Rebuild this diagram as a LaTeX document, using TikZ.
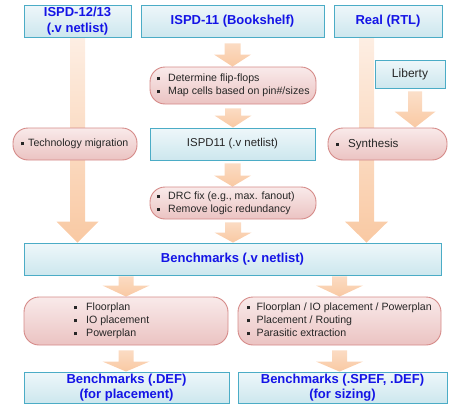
\documentclass[tikz,border=0pt]{standalone}
\usepackage{fontspec}
\setmainfont{Liberation Sans}
\usetikzlibrary{calc}
\pgfdeclarelayer{background}
\pgfsetlayers{background,main}
\definecolor{bbord}{HTML}{4BACC6}
\definecolor{btop}{HTML}{EEF7FA}
\definecolor{bbot}{HTML}{CDE7EE}
\definecolor{pbord}{HTML}{D58A88}
\definecolor{ptop}{HTML}{F9EAEA}
\definecolor{pbot}{HTML}{EBC3C2}
\definecolor{arr}{HTML}{F9C9A3}
\definecolor{arrlt}{HTML}{FDEEE3}
\definecolor{tblue}{HTML}{1414E6}
\definecolor{tdark}{HTML}{262626}
\newcommand\sq{\rule[1.3pt]{3.2pt}{3.2pt}}
% start, end, half shaft, half head, head length, top colour
\newcommand\vfat[6]{%
  \path[top color=#6, bottom color=arr] let \p1=(#1), \p2=(#2) in
    (\x1-#3,\y1) -- (\x1+#3,\y1) -- (\x1+#3,\y2+#5) -- (\x1+#4,\y2+#5)
    -- (\x1,\y2) -- (\x1-#4,\y2+#5) -- (\x1-#3,\y2+#5) -- cycle;}
\tikzset{
  bluebox/.style={draw=bbord, line width=0.9pt, top color=btop, bottom color=bbot, inner sep=0pt, align=center},
  ttl/.style={font=\bfseries\fontsize{13}{15.5}\selectfont, text=tblue},
  plain/.style={text=tdark},
  pinkbox/.style={draw=pbord, line width=0.9pt, top color=ptop, bottom color=pbot, inner sep=0pt,
    rounded corners=15pt, text=tdark, font=\fontsize{10.6}{13}\selectfont}
}
\begin{document}
\begin{tikzpicture}[x=1pt,y=-1pt]
\useasboundingbox (0,0) rectangle (452,407);
% top row
\node[bluebox, ttl, minimum width=107pt, minimum height=32pt] (i1213) at (77.5,21) {ISPD-12/13\\(.v netlist)};
\node[bluebox, ttl, minimum width=183pt, minimum height=32pt] (i11) at (232.5,21) {ISPD-11 (Bookshelf)};
\node[bluebox, ttl, minimum width=108pt, minimum height=32pt] (rtl) at (388,21) {Real (RTL)};
\node[bluebox, plain, font=\fontsize{12}{14}\selectfont, minimum width=70pt, minimum height=28pt] (lib) at (410,74) {Liberty};
% middle column
\node[pinkbox, minimum width=166pt, minimum height=37pt] (det) at (233,85.5)
  {\makebox[166pt][l]{\hspace*{7pt}\begin{tabular}{@{}l@{\hspace{8pt}}l@{}}\sq & Determine flip-flops\\ \sq & Map cells based on pin\#/sizes\end{tabular}}};
\node[pinkbox, minimum width=124pt, minimum height=32pt] (tech) at (75,144)
  {\makebox[124pt][l]{\hspace*{8pt}\sq\hspace{4pt}Technology migration}};
\node[bluebox, plain, font=\fontsize{11.4}{14}\selectfont, minimum width=165pt, minimum height=32pt] (i11v) at (232.5,144) {ISPD11 (.v netlist)};
\node[pinkbox, font=\fontsize{11.6}{14}\selectfont, minimum width=119pt, minimum height=32pt] (syn) at (387.5,144)
  {\makebox[119pt][l]{\hspace*{8pt}\sq\hspace{9pt}Synthesis}};
\node[pinkbox, minimum width=166pt, minimum height=32pt] (drc) at (233,203)
  {\makebox[166pt][l]{\hspace*{7pt}\begin{tabular}{@{}l@{\hspace{8pt}}l@{}}\sq & DRC fix (e.g., max. fanout)\\ \sq & Remove logic redundancy\end{tabular}}};
\node[bluebox, ttl, minimum width=417pt, minimum height=32pt] (bench) at (232.5,259) {Benchmarks (.v netlist)};
% lower part
\node[pinkbox, minimum width=204pt, minimum height=48pt] (fl) at (126,321)
  {\makebox[204pt][l]{\hspace*{50pt}\begin{tabular}{@{}l@{\hspace{9pt}}l@{}}\sq & Floorplan\\ \sq & IO placement\\ \sq & Powerplan\end{tabular}}};
\node[pinkbox, minimum width=203pt, minimum height=48pt] (fr) at (339.5,321)
  {\makebox[203pt][l]{\hspace*{9pt}\begin{tabular}{@{}l@{\hspace{6.5pt}}l@{}}\sq & Floorplan / IO placement / Powerplan\\ \sq & Placement / Routing\\ \sq & Parasitic extraction\end{tabular}}};
\node[bluebox, ttl, minimum width=205pt, minimum height=31pt] (defl) at (126.5,387.5) {Benchmarks (.DEF)\\(for placement)};
\node[bluebox, ttl, minimum width=209pt, minimum height=31pt] (defr) at (342.5,387.5) {Benchmarks (.SPEF, .DEF)\\(for sizing)};
% arrows
\begin{pgfonlayer}{background}
\vfat{i1213.south}{bench.north}{7.5pt}{21pt}{21pt}{arrlt}
\vfat{$(rtl.south)+(-21.5,0)$}{bench.north}{7.5pt}{21.5pt}{21pt}{arrlt}
\vfat{$(lib.south)+(5,3)$}{syn.north}{7pt}{20.5pt}{16pt}{arrlt!60!arr}
\vfat{$(i11.south)+(0,6)$}{det.north}{8pt}{18.5pt}{12pt}{arrlt!50!arr}
\vfat{$(det.south)+(0,4)$}{i11v.north}{8pt}{18.5pt}{12pt}{arrlt!50!arr}
\vfat{$(i11v.south)+(0,3)$}{drc.north}{8pt}{18.5pt}{11pt}{arrlt!50!arr}
\vfat{$(drc.south)+(0,3)$}{bench.north}{8pt}{18.5pt}{10pt}{arrlt!50!arr}
\vfat{$(bench.south -| fl.north)+(0,1)$}{fl.north}{7.5pt}{23.5pt}{11pt}{arrlt!50!arr}
\vfat{$(bench.south -| fr.north)+(0,1)$}{fr.north}{7.5pt}{23.5pt}{11pt}{arrlt!50!arr}
\vfat{$(fl.south)+(0,5)$}{defl.north}{7.5pt}{23.5pt}{10pt}{arrlt!50!arr}
\vfat{$(fr.south)+(0,5)$}{defr.north}{7.5pt}{23.5pt}{10pt}{arrlt!50!arr}
\end{pgfonlayer}
\end{tikzpicture}
\end{document}
